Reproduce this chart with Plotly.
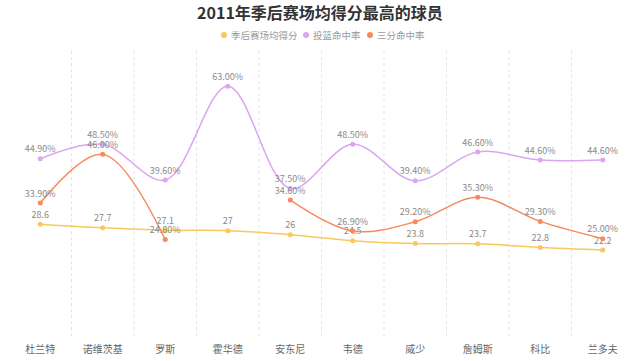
import plotly.graph_objects as go

players = ["杜兰特", "诺维茨基", "罗斯", "霍华德", "安东尼", "韦德", "威少", "詹姆斯", "科比", "兰多夫"]
points = [28.6, 27.7, 27.1, 27, 26, 24.5, 23.8, 23.7, 22.8, 22.2]
fg_pct = [44.9, 48.5, 39.6, 63.0, 37.5, 48.5, 39.4, 46.6, 44.6, 44.6]
three_pct = [33.9, 46.0, 24.8, None, 34.6, 26.9, 29.2, 35.3, 29.3, 25.0]

names = ["季后赛场均得分", "投篮命中率", "三分命中率"]
colors = ["#F8C95A", "#DBA5F2", "#F8895C"]
series = [points, fg_pct, three_pct]
templates = ["%{y}", "%{y:.2f}%", "%{y:.2f}%"]

FONT = "Noto Sans CJK SC, Microsoft YaHei, sans-serif"

W, H = 640, 361
ML, MR, MT, MB = 9, 6, 48, 22
PW, PH = W - ML - MR, H - MT - MB

def px_x(p):
    return (p - ML) / PW

def px_y(p):
    return (H - MB - p) / PH

fig = go.Figure()
for name, color, vals, tpl in zip(names, colors, series, templates):
    fig.add_trace(go.Scatter(
        x=players, y=vals, mode="lines+markers+text", name=name,
        line=dict(color=color, width=1.5, shape="spline", smoothing=1),
        marker=dict(color=color, size=5),
        texttemplate=tpl, textposition="top center",
        textfont=dict(size=9, color="#8a8a8a", family=FONT),
        connectgaps=False, showlegend=False, cliponaxis=False,
    ))

shapes = []
for i in range(len(players) - 1):
    shapes.append(dict(type="line", xref="x", yref="paper", x0=i + 0.5, x1=i + 0.5,
                       y0=0.01, y1=1, line=dict(color="#e3e3e3", width=1, dash="3px,3px"), layer="below"))

# custom legend (dot + label), centred under the title
legend_dot_px = [224, 306, 370]
legend_y = px_y(35)
annotations = []
for name, color, dx in zip(names, colors, legend_dot_px):
    shapes.append(dict(type="circle", xref="paper", yref="paper",
                       xsizemode="pixel", ysizemode="pixel",
                       xanchor=px_x(dx), yanchor=legend_y,
                       x0=-3, x1=3, y0=-3, y1=3,
                       fillcolor=color, line=dict(width=0)))
    annotations.append(dict(xref="paper", yref="paper", x=px_x(dx + 5), y=legend_y,
                            xanchor="left", yanchor="middle", showarrow=False, text=name,
                            font=dict(size=9.5, color="#999999", family=FONT)))

fig.update_layout(
    width=W, height=H,
    margin=dict(l=ML, r=MR, t=MT, b=MB),
    paper_bgcolor="white", plot_bgcolor="white",
    font=dict(family=FONT, color="#666666"),
    showlegend=False,
    title=dict(text="<b>2011年季后赛场均得分最高的球员</b>", x=0.5, xanchor="center",
               y=1 - 13 / H, yanchor="middle", font=dict(size=16, color="#333333", family=FONT)),
    xaxis=dict(type="category", range=[-0.5, len(players) - 0.5], showgrid=False, showline=False,
               zeroline=False, ticks="", ticklabelstandoff=3,
               tickfont=dict(size=10, color="#666666", family=FONT)),
    yaxis=dict(range=[0, 72.5], visible=False, showgrid=False, zeroline=False),
    shapes=shapes,
    annotations=annotations,
)

fig.write_html("out.html", config={"displayModeBar": False},
               post_script="document.body.style.margin='0';document.body.style.overflow='hidden';")
